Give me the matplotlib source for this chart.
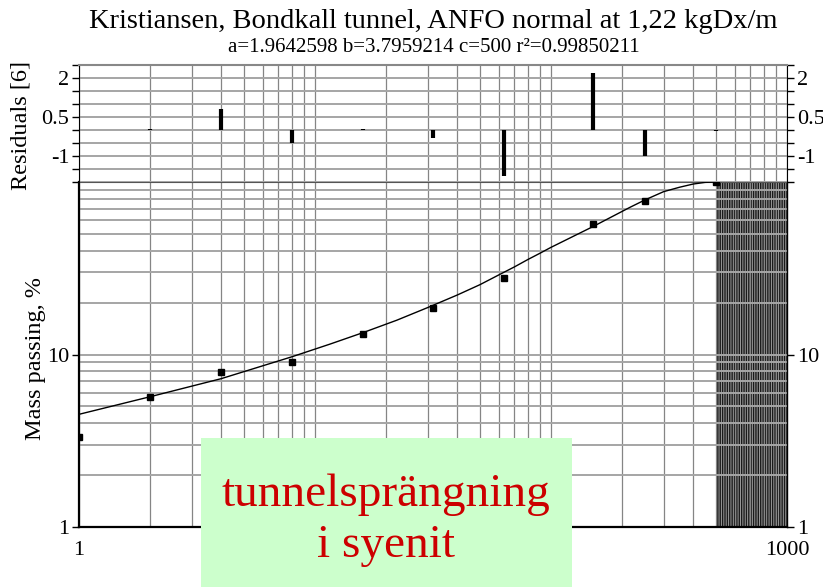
import numpy as np
import matplotlib
matplotlib.use('Agg')
import matplotlib.pyplot as plt
from matplotlib.patches import Rectangle
from matplotlib.ticker import FixedLocator, NullFormatter

plt.rcParams['font.family'] = ['Liberation Serif', 'DejaVu Serif']
plt.rcParams['hatch.linewidth'] = 1.0

# sieve data
sizes = [1, 2, 4, 8, 16, 31.5, 63, 150, 250, 500]
passing = [3.34, 5.65, 7.95, 9.01, 13.2, 18.7, 27.7, 57.1, 77.3, 100]
residuals = [0.0, 0.03, 0.81, -0.51, 0.04, -0.3, -1.77, 2.21, -0.99, -0.02]

# fitted curve, points
curve_x = [1, 2, 4, 8, 11.6, 16, 22.2, 30, 40, 50, 60, 70, 80, 90, 100,
           150, 216, 250, 300, 350, 400, 450, 500]
curve_y = [4.50, 5.69, 7.24, 9.71, 11.5, 13.4, 15.8, 18.7, 22.1, 25.4, 28.9,
           32.2, 35.6, 38.7, 41.8, 55.0, 71.3, 78.7, 87.9, 93.2, 97.3, 99.5, 100]
c_max = 500

title = "Kristiansen, Bondkall tunnel, ANFO normal at 1,22 kgDx/m"
subtitle = "a=1.9642598 b=3.7959214 c=500 r\u00b2=0.99850211"
res_ticks = [-2, -1.5, -1, -0.5, 0, 0.5, 1, 1.5, 2, 2.5]
res_labels = ['', '', '-1', '', '', '0.5', '', '', '2', '']

W, H = 823, 587
fig = plt.figure(figsize=(W / 100, H / 100), dpi=100)

L, R = 79, 787
ax = fig.add_axes([L / W, (H - 527) / H, (R - L) / W, (527 - 182) / H])
axr = fig.add_axes([L / W, (H - 182) / H, (R - L) / W, (182 - 65) / H])

minor_x = [m * 10 ** e for e in range(3) for m in range(2, 10)]
minor_y = [m * 10 ** e for e in range(2) for m in range(2, 10)]

# ---- main panel
ax.set_xscale('log')
ax.set_yscale('log')
ax.set_xlim(1, 1000)
ax.set_ylim(1, 100)
ax.xaxis.set_major_locator(FixedLocator([1, 10, 100, 1000]))
ax.xaxis.set_minor_locator(FixedLocator(minor_x))
ax.yaxis.set_major_locator(FixedLocator([1, 10]))
ax.yaxis.set_minor_locator(FixedLocator(minor_y + [100]))
ax.set_xticklabels(['1', '10', '100', '1000'])
ax.set_yticklabels(['1', '10'])
ax.xaxis.set_minor_formatter(NullFormatter())
ax.yaxis.set_minor_formatter(NullFormatter())
ax.xaxis.grid(True, which='both', color='#858585', lw=0.9)
ax.yaxis.grid(True, which='both', color='#a5a5a5', lw=1.4)
ax.tick_params(which='minor', length=0)
ax.tick_params(which='major', direction='out', length=5, width=1, labelsize=16,
               right=True, labelright=True, pad=2)
ax.tick_params(axis='x', length=0, pad=10)

ax.fill_between([c_max, 1000], 1, 100, facecolor='#9a9a9a', edgecolor='#1a1a1a',
                hatch='|' * 7, linewidth=0)
ax.plot(curve_x, curve_y, color='black', lw=1.0, zorder=3)
ax.plot(sizes, passing, 's', color='black', markersize=4, zorder=4)

for s in ['left', 'bottom']:
    ax.spines[s].set_linewidth(1.6)
ax.spines['right'].set_linewidth(1.0)
ax.spines['top'].set_color('#555555')

# ---- residual panel
axr.set_xscale('log')
axr.set_xlim(1, 1000)
axr.set_ylim(-2, 2.5)
axr.xaxis.set_major_locator(FixedLocator([1, 10, 100, 1000]))
axr.xaxis.set_minor_locator(FixedLocator(minor_x))
axr.xaxis.set_major_formatter(NullFormatter())
axr.xaxis.set_minor_formatter(NullFormatter())
axr.yaxis.set_major_locator(FixedLocator(res_ticks))
axr.set_yticklabels(res_labels)
axr.xaxis.grid(True, which='both', color='#858585', lw=0.9)
axr.yaxis.grid(True, color='#a5a5a5', lw=1.4)
axr.tick_params(axis='x', which='both', length=0)
axr.tick_params(axis='y', direction='out', length=5, width=1, labelsize=16,
                right=True, labelright=True, pad=2)
axr.vlines(sizes, 0, residuals, color='black', lw=3, zorder=3)
axr.spines['bottom'].set_visible(False)
axr.spines['top'].set_color('#888888')
axr.spines['top'].set_linewidth(1.5)

# ---- texts
fig.text(433 / W, 1 - 21 / H, title, ha='center', va='center', fontsize=20.5)
fig.text(434 / W, 1 - 47 / H, subtitle, ha='center', va='center', fontsize=15)
fig.text(21 / W, 1 - 125 / H, 'Residuals [6]', rotation=90, ha='center',
         va='center', fontsize=17.5)
fig.text(36 / W, 1 - 359 / H, 'Mass passing, %', rotation=90, ha='center',
         va='center', fontsize=17.5)

# ---- green label box
fig.patches.append(Rectangle((201 / W, 0), 371 / W, 149 / H, transform=fig.transFigure,
                             facecolor='#ccffcc', edgecolor='none', zorder=10))
fig.text(386 / W, 1 - 506 / H, 'tunnelsprängning', ha='center', va='baseline',
         fontsize=34, color='#cc0000', zorder=11)
fig.text(386 / W, 1 - 557 / H, 'i syenit', ha='center', va='baseline',
         fontsize=34, color='#cc0000', zorder=11)

fig.savefig('out.png', dpi=100)
